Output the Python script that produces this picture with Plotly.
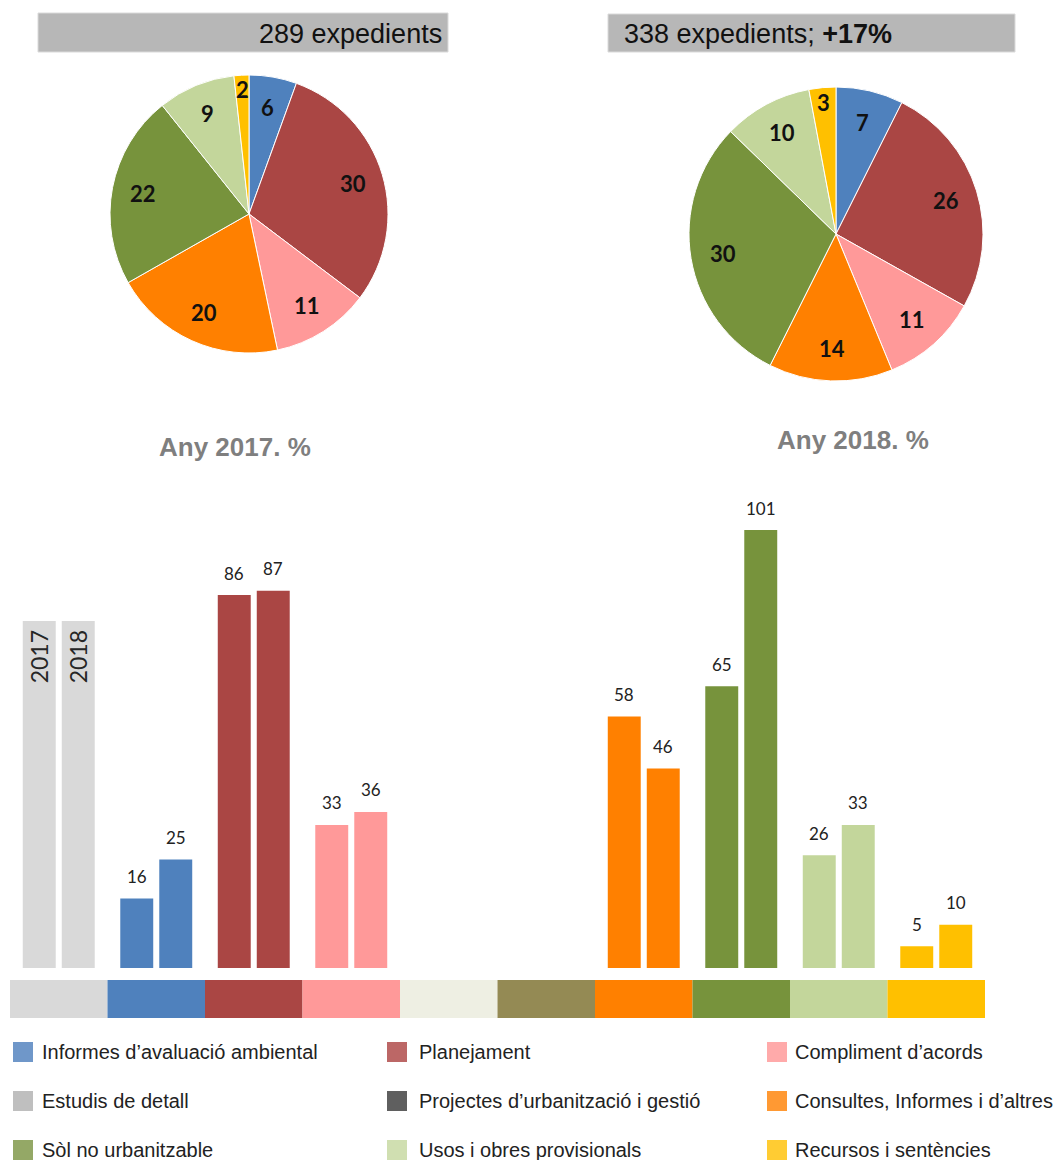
import math
import plotly.graph_objects as go

# the page body adds an 8px margin; map reference pixels onto the figure
OFF = 8
W, H = 1061 - OFF, 1160 - OFF


def px(x):
    return (x - OFF) / W


def py(y):
    return 1 - (y - OFF) / H


# ---------------- data ----------------
categories = [
    "Estudis de detall",
    "Informes d’avaluació ambiental",
    "Planejament",
    "Compliment d’acords",
    "(sense nom)",
    "Projectes d’urbanització i gestió",
    "Consultes, Informes i d’altres",
    "Sòl no urbanitzable",
    "Usos i obres provisionals",
    "Recursos i sentències",
]
values_2017 = [None, 16, 86, 33, None, None, 58, 65, 26, 5]
values_2018 = [None, 25, 87, 36, None, None, 46, 101, 33, 10]
bar_colors = ["#D9D9D9", "#4F81BD", "#AA4644", "#FF9999", "#EEEFE3",
              "#948A54", "#FF8000", "#77933C", "#C3D69B", "#FFC000"]
strip_colors = ["#D9D9D9", "#4F81BD", "#AA4644", "#FF9999", "#EEEFE3",
                "#948A54", "#FF8000", "#77933C", "#C3D69B", "#FFC000"]

year_labels = ["2017", "2018"]
year_marker_height = [80, 80]

pie_pct_2017 = [6, 30, 11, 20, 22, 9, 2]
pie_pct_2018 = [7, 26, 11, 14, 30, 10, 3]

header_2017 = "289 expedients"
header_2018 = "338 expedients; <b>+17%</b>"
title_2017 = "Any 2017. %"
title_2018 = "Any 2018. %"

legend_rows = [
    [("Informes d’avaluació ambiental", "#6F97C9"), ("Planejament", "#BC6766"), ("Compliment d’acords", "#FFAAAA")],
    [("Estudis de detall", "#BFBFBF"), ("Projectes d’urbanització i gestió", "#5F5F5F"), ("Consultes, Informes i d’altres", "#FF9933")],
    [("Sòl no urbanitzable", "#94A866"), ("Usos i obres provisionals", "#D0DFB1"), ("Recursos i sentències", "#FFCC33")],
]

NARROW = "Liberation Sans Narrow, Arial Narrow, Liberation Sans, sans-serif"
CAL = "Lato, Carlito, Calibri, sans-serif"

# pie slices use the non-empty categories
pie_idx = [i for i, v in enumerate(values_2017) if v]
pie_labels = [categories[i] for i in pie_idx]
pie_colors = [bar_colors[i] for i in pie_idx]
pie_counts_2017 = [values_2017[i] for i in pie_idx]
pie_counts_2018 = [values_2018[i] for i in pie_idx]

fig = go.Figure()

pies = [
    (pie_counts_2017, pie_pct_2017, (110, 388), (75, 353)),
    (pie_counts_2018, pie_pct_2018, (689, 983), (87, 381)),
]
annotations = []
for counts, pct, (x0, x1), (y0, y1) in pies:
    fig.add_trace(go.Pie(
        labels=pie_labels, values=counts, sort=False, direction="clockwise",
        marker=dict(colors=pie_colors, line=dict(color="white", width=1)),
        textinfo="none", hoverinfo="label+value", showlegend=False,
        domain=dict(x=[px(x0), px(x1)], y=[py(y1), py(y0)]),
    ))
    cxp, cyp = (x0 + x1) / 2, (y0 + y1) / 2
    r = min(x1 - x0, y1 - y0) / 2
    total = sum(counts)
    cum = 0
    for c, p in zip(counts, pct):
        frac = c / total
        mid = (cum + frac / 2) * 2 * math.pi
        cum += frac
        k = 0.9 if frac < 0.04 else 0.78
        lx = cxp + k * r * math.sin(mid)
        ly = cyp - k * r * math.cos(mid)
        annotations.append(dict(
            x=px(lx), y=py(ly), xref="paper", yref="paper", text=f"<b>{p}</b>",
            showarrow=False, xanchor="center", yanchor="middle",
            font=dict(family=CAL, size=22, color="#111111"),
        ))

# bars
bargap = 0.2
offset = (1 - bargap) / 4
fig.add_trace(go.Bar(x=categories, y=values_2017, marker=dict(color=bar_colors, line=dict(width=0)),
                     offsetgroup="a", name="2017", showlegend=False))
fig.add_trace(go.Bar(x=categories, y=values_2018, marker=dict(color=bar_colors, line=dict(width=0)),
                     offsetgroup="b", name="2018", showlegend=False))
for lab, hgt, grp in zip(year_labels, year_marker_height, ["a", "b"]):
    fig.add_trace(go.Bar(
        x=[categories[0]], y=[hgt], offsetgroup=grp, showlegend=False,
        marker=dict(color="#D9D9D9", line=dict(width=0)),
        text=[lab + " "], textposition="inside", insidetextanchor="end", textangle=-90,
        constraintext="none", textfont=dict(family=CAL, size=23, color="#262626"),
        hoverinfo="skip",
    ))

for vals, sgn in [(values_2017, -1), (values_2018, 1)]:
    for i, v in enumerate(vals):
        if v:
            annotations.append(dict(
                x=i + sgn * offset, y=v, xref="x", yref="y", text=str(v), showarrow=False,
                xanchor="center", yanchor="middle", yshift=22,
                font=dict(family=CAL, size=17, color="#222222"),
            ))

# colour strip
fig.add_trace(go.Bar(x=categories, y=[1] * len(categories), width=1,
                     marker=dict(color=strip_colors, line=dict(width=0)),
                     xaxis="x2", yaxis="y2", showlegend=False, hoverinfo="x"))

shapes = []
# header boxes
for (bx0, bx1, by0, by1) in [(38, 448, 13, 52), (608, 1015, 14, 52)]:
    shapes.append(dict(type="rect", xref="paper", yref="paper",
                       x0=px(bx0), x1=px(bx1), y0=py(by1), y1=py(by0),
                       fillcolor="#B7B7B7", line=dict(color="#DADADA", width=1), layer="below"))
annotations.append(dict(x=px(444), y=py(34), xref="paper", yref="paper", text=header_2017,
                        showarrow=False, xanchor="right", yanchor="middle",
                        font=dict(family=NARROW, size=27, color="#111111")))
annotations.append(dict(x=px(622), y=py(34), xref="paper", yref="paper", text=header_2018,
                        showarrow=False, xanchor="left", yanchor="middle",
                        font=dict(family=NARROW, size=27, color="#111111")))
annotations.append(dict(x=px(235), y=py(447), xref="paper", yref="paper", text=f"<b>{title_2017}</b>",
                        showarrow=False, xanchor="center", yanchor="middle",
                        font=dict(family=NARROW, size=26, color="#7F7F7F")))
annotations.append(dict(x=px(853), y=py(440), xref="paper", yref="paper", text=f"<b>{title_2018}</b>",
                        showarrow=False, xanchor="center", yanchor="middle",
                        font=dict(family=NARROW, size=26, color="#7F7F7F")))

# legend
col_sq = [13, 387, 767]
col_tx = [40, 417, 793]
row_y = [1052, 1101, 1150]
for r_i, row in enumerate(legend_rows):
    for c_i, (name, col) in enumerate(row):
        yc = row_y[r_i]
        shapes.append(dict(type="rect", xref="paper", yref="paper",
                           x0=px(col_sq[c_i]), x1=px(col_sq[c_i] + 20), y0=py(yc + 10), y1=py(yc - 10),
                           fillcolor=col, line=dict(width=0)))
        annotations.append(dict(x=px(col_tx[c_i]), y=py(yc), xref="paper", yref="paper", text=name,
                                showarrow=False, xanchor="left", yanchor="middle",
                                font=dict(family=NARROW, size=20, color="#222222")))

fig.update_layout(
    width=W, height=H, margin=dict(l=0, r=0, t=0, b=0),
    paper_bgcolor="white", plot_bgcolor="white",
    barmode="group", bargap=bargap, bargroupgap=0.155,
    shapes=shapes, annotations=annotations, showlegend=False,
    xaxis=dict(domain=[px(10), px(985)], range=[-0.5, 9.5], type="category",
               categoryorder="array", categoryarray=categories,
               showticklabels=False, showgrid=False, zeroline=False, showline=False, ticks=""),
    yaxis=dict(domain=[py(968), py(491)], range=[0, 110], showticklabels=False,
               showgrid=False, zeroline=False, showline=False, ticks=""),
    xaxis2=dict(domain=[px(10), px(985)], range=[-0.5, 9.5], type="category",
                categoryorder="array", categoryarray=categories, anchor="y2",
                showticklabels=False, showgrid=False, zeroline=False, showline=False, ticks=""),
    yaxis2=dict(domain=[py(1018), py(980)], range=[0, 1], anchor="x2", showticklabels=False,
                showgrid=False, zeroline=False, showline=False, ticks=""),
)

fig.write_html("out.html")
